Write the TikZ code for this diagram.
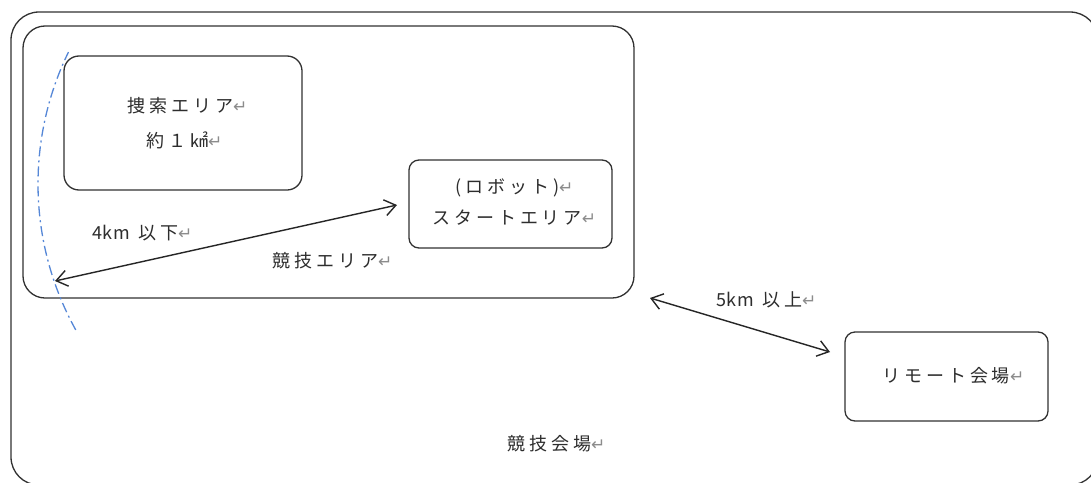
\documentclass[tikz,border=0pt]{standalone}
\usepackage{fontspec}
\setmainfont{Noto Sans CJK JP}
\newfontfamily\dvfont{DejaVu Sans}
\usetikzlibrary{arrows.meta}
\definecolor{linegray}{RGB}{50,50,50}
\definecolor{txtgray}{RGB}{45,45,45}
\definecolor{retgray}{RGB}{140,140,140}
\definecolor{arcblue}{RGB}{85,135,215}
\newcommand{\retmark}{{\dvfont\fontsize{17}{17}\selectfont\color{retgray}\char"21B5}}
\newcommand{\tight}[1]{{\addfontfeature{LetterSpace=4}#1}}
\begin{document}
\begin{tikzpicture}[x=1pt,y=-1pt,
  box/.style={draw=linegray, line width=1.3pt, rounded corners=#1, inner sep=0pt},
  box/.default=10pt,
  lbl/.style={text=txtgray, font=\fontsize{18}{22}\selectfont\addfontfeature{LetterSpace=22}, inner sep=0pt, anchor=west},
  dbl/.style={draw=black!85, line width=1.4pt, {Straight Barb[length=11pt,width=16pt]}-{Straight Barb[length=11pt,width=16pt]}},
  arcline/.style={draw=arcblue, line width=1.3pt, dash pattern=on 10pt off 4pt on 2pt off 4pt}
]
\useasboundingbox (0,0) rectangle (1091,482);
\fill[white] (0,0) rectangle (1091,482);
% boxes
\node[box=28pt, minimum width=1087pt, minimum height=473pt] (venue) at (554.5,248.5) {};
\node[box=22pt, minimum width=611pt, minimum height=272pt] (area) at (328.5,162) {};
\node[box=15pt, minimum width=238pt, minimum height=134pt] (search) at (183,123) {};
\node[box=10pt, minimum width=203pt, minimum height=88pt] (start) at (510.5,204) {};
\node[box=10pt, minimum width=203pt, minimum height=89pt] (remote) at (946.5,376.5) {};
% dash-dot arc (4 km radius)
\draw[arcline] plot[domain=151:206, samples=80] ({339+301*cos(\x)},{184+301*sin(\x)});
% arrow end points
\coordinate (a4L) at (55,281);
\coordinate (a4R) at (397,205);
\coordinate (a5L) at (650,298);
\coordinate (a5R) at (830,352);
\draw[dbl] (a4L) -- (a4R);
\draw[dbl] (a5L) -- (a5R);
% labels
\node[lbl] (t1) at (127,106) {捜索エリア\retmark};
\node[lbl] (t2) at (146,140) {約１㎢\retmark};
\node[lbl] (t3) at (455,188) {(ロボット)\retmark};
\node[lbl] (t4) at (432,218) {スタートエリア\retmark};
\node[lbl] (t5) at (92,233) {\tight{4km} 以下\retmark};
\node[lbl] (t6) at (272,261) {競技エリア\retmark};
\node[lbl] (t7) at (716,300) {\tight{5km} 以上\retmark};
\node[lbl] (t8) at (882,376) {リモート会場\retmark};
\node[lbl] (t9) at (507,444) {競技会場\retmark};
\end{tikzpicture}
\end{document}
